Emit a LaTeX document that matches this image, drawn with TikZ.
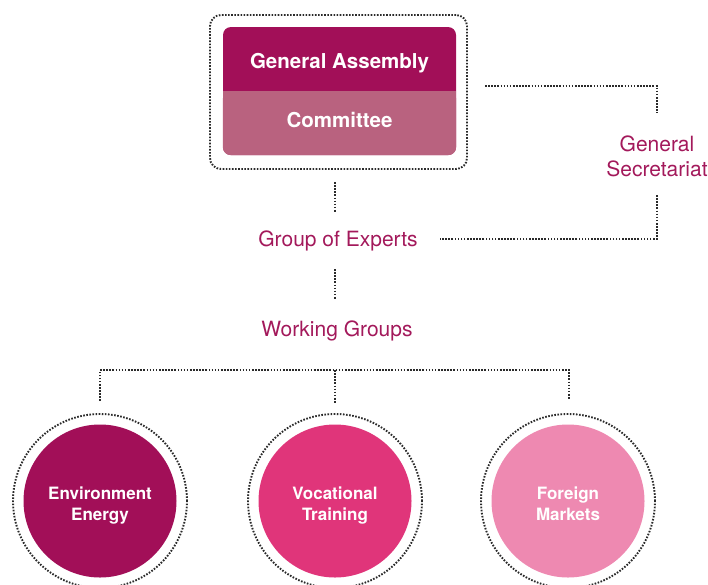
\documentclass[tikz,border=0pt]{standalone}
\usepackage{fontspec}
\setmainfont{TeX Gyre Heros}
\definecolor{gacol}{HTML}{A20F58}
\definecolor{cmcol}{HTML}{B9627F}
\definecolor{vocol}{HTML}{E0357A}
\definecolor{focol}{HTML}{EE89B1}
\definecolor{labcol}{HTML}{A3195B}
\definecolor{dotcol}{HTML}{2A2A2A}
\tikzset{
  dotline/.style={draw=dotcol, line width=1.9pt, dash pattern=on 1.6pt off 1.5pt},
  boxtext/.style={text=white, font=\fontsize{20.5}{24}\selectfont\bfseries, anchor=base, inner sep=0pt},
  labtext/.style={text=labcol, font=\fontsize{21}{25}\selectfont, inner sep=0pt, align=center},
  wgcircle/.style={circle, minimum size=153, inner sep=0pt},
  wgtext/.style={text=white, align=center, inner sep=0pt, anchor=base,
     font=\fontsize{17}{21}\selectfont\bfseries},
  ring/.style={circle, minimum size=174, inner sep=0pt, dotline}
}
\begin{document}
\begin{tikzpicture}[x=1pt,y=-1pt]
\useasboundingbox (0,0) rectangle (708,584);
\clip (0,0) rectangle (708,584);
% top box
\node[dotline, rounded corners=11, minimum width=257, minimum height=154, inner sep=0pt] (frame) at (338.5,92) {};
\node[fill=gacol, rounded corners=8, minimum width=233, minimum height=128, inner sep=0pt] (box) at (339.5,91) {};
\fill[cmcol, rounded corners=8] (box.west) rectangle (box.south east);
\fill[cmcol] (box.west) rectangle ([yshift=-14pt]box.east);
\node[boxtext] (ga) at (339.5,68) {General Assembly};
\node[boxtext] (cm) at (339.5,127) {Committee};
% labels
\node[labtext, anchor=base] (gs) at (657,176) {General\\Secretariat};
\node[labtext, anchor=base] (ge) at (338,246) {Group of Experts};
\node[labtext, anchor=base] (wg) at (337,336) {Working Groups};
% circles
\node[wgcircle, fill=gacol] (env) at (100,501) {};
\node[wgcircle, fill=vocol] (voc) at (335,501) {};
\node[wgcircle, fill=focol] (for) at (568,501) {};
\node[wgtext] (envt) at (100,520) {Environment\\Energy};
\node[wgtext] (voct) at (335,520) {Vocational\\Training};
\node[wgtext] (fort) at (568,520) {Foreign\\Markets};
\node[ring] (envr) at (100,501) {};
\node[ring] (vocr) at (335,501) {};
\node[ring] (forr) at (568,501) {};
% connector end points
\coordinate (gsa) at (485,86);
\coordinate (gsb) at (657,113);
\coordinate (gsc) at (657,195);
\coordinate (gsd) at (440,239);
\coordinate (bx1) at (335,182);
\coordinate (bx2) at (335,213);
\coordinate (wg1) at (335,269);
\coordinate (wg2) at (335,300);
\coordinate (t1) at (100,401);
\coordinate (t2) at (569,399);
\coordinate (tm) at (335,370);
\coordinate (t3) at (335,403);
\draw[dotline] (gsa) -| (gsb);
\draw[dotline] (gsc) |- (gsd);
\draw[dotline] (bx1) -- (bx2);
\draw[dotline] (wg1) -- (wg2);
\draw[dotline] (t1) |- (tm) -| (t2);
\draw[dotline] (tm) -- (t3);
\end{tikzpicture}
\end{document}
